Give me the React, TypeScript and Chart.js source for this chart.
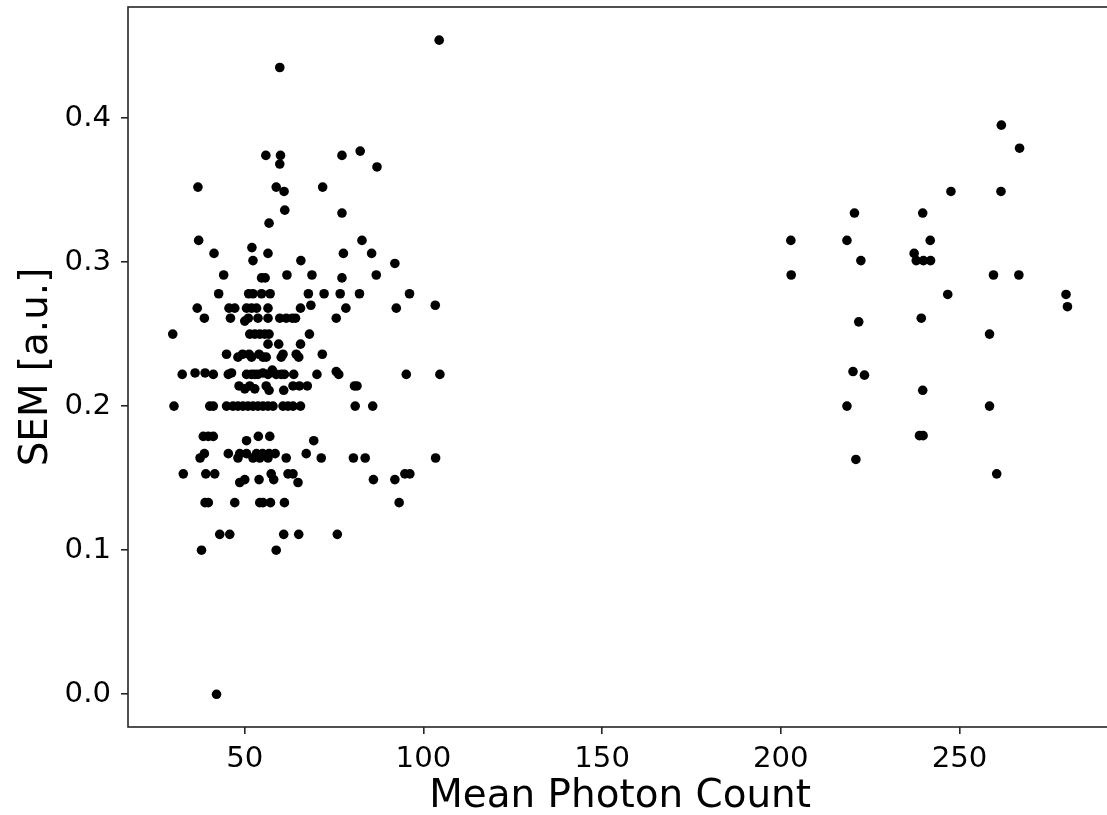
import React, { useEffect, useRef } from "react";
import { Chart, registerables } from "chart.js";

Chart.register(...registerables);

const xTickValues = [50, 100, 150, 200, 250];
const yTickValues = [0, 0.1, 0.2, 0.3, 0.4];
const xAxisLabel = "Mean Photon Count";
const yAxisLabel = "SEM [a.u.]";

// Low-count cluster
const lowPhotonCounts = [
  104.4, 59.8, 55.9, 60.0, 59.8, 77.2, 82.3, 87.0, 36.9, 58.8, 61.0, 71.8, 61.2, 56.8, 77.2,
  37.1, 82.8, 52.0, 41.4, 56.5, 77.6, 85.5, 52.3, 65.7, 92.0,
  44.1, 54.7, 55.7, 61.8, 68.8, 77.2, 86.8,
  42.7, 51.1, 52.3, 54.7, 57.1, 67.8, 72.2, 76.7, 82.1, 96.1,
  36.7, 45.6, 47.2, 50.5, 51.9, 53.3, 56.5, 65.6, 68.5, 78.3, 92.4, 103.3,
  38.7, 46.0, 50.0, 51.0, 53.7, 56.5, 59.8, 61.6, 63.3, 64.2, 75.6,
  29.85, 51.4, 52.8, 54.2, 55.6, 56.8, 68.1,
  56.5, 59.5, 65.6,
  44.9, 48.1, 49.4, 51.2, 51.9, 54.0, 55.1, 56.0, 60.7, 60.2, 64.4, 65.1, 71.7,
  32.5, 36.1, 38.9, 41.2, 45.4, 46.3, 50.5, 51.9, 52.8, 53.7, 55.1, 56.5, 57.7, 58.8, 60.2, 61.1, 63.7, 70.2, 75.6, 76.3, 95.2, 104.6,
  48.4, 50.0, 51.4, 52.8, 56.0, 56.8, 60.9, 63.5, 65.3, 67.5, 80.7, 81.4,
  30.2, 40.2, 41.2, 44.9, 46.7, 48.1, 49.5, 50.9, 52.3, 53.7, 55.1, 56.5, 57.9, 60.7, 62.1, 63.5, 65.6, 80.9, 85.8,
  38.4, 39.8, 41.2, 50.5, 53.8, 57.0, 69.3,
  38.7, 45.4, 48.6, 50.5, 53.3, 55.0, 56.8, 58.5, 67.2,
  37.5, 48.1, 52.3, 54.2, 56.5, 61.6, 71.4, 80.4, 83.7, 103.4,
  32.8, 39.1, 41.6, 57.4, 62.1, 63.5, 94.8, 96.2,
  48.6, 50.0, 54.0, 58.1, 64.9, 86.0, 92.0,
  38.9, 39.8, 47.2, 54.2, 55.1, 57.2, 61.1, 93.2,
  43.0, 45.8, 60.9, 65.1, 75.9,
  37.9, 58.8,
  42.1,
];

const lowSemValues = [
  0.454, 0.435, 0.374, 0.374, 0.368, 0.374, 0.377, 0.366, 0.352, 0.352, 0.349, 0.352, 0.336, 0.327, 0.334,
  0.315, 0.315, 0.310, 0.306, 0.306, 0.306, 0.306, 0.301, 0.301, 0.299,
  0.291, 0.289, 0.289, 0.291, 0.291, 0.289, 0.291,
  0.278, 0.278, 0.278, 0.278, 0.278, 0.278, 0.278, 0.278, 0.278, 0.278,
  0.268, 0.268, 0.268, 0.268, 0.268, 0.268, 0.268, 0.268, 0.270, 0.268, 0.268, 0.270,
  0.261, 0.261, 0.259, 0.261, 0.261, 0.261, 0.261, 0.261, 0.261, 0.261, 0.261,
  0.25, 0.25, 0.25, 0.25, 0.25, 0.25, 0.25,
  0.243, 0.243, 0.243,
  0.236, 0.234, 0.236, 0.236, 0.234, 0.236, 0.234, 0.234, 0.236, 0.234, 0.236, 0.234, 0.236,
  0.222, 0.223, 0.223, 0.222, 0.222, 0.223, 0.222, 0.222, 0.222, 0.222, 0.223, 0.222, 0.225, 0.222, 0.222, 0.222, 0.222, 0.222, 0.224, 0.222, 0.222, 0.222,
  0.214, 0.212, 0.214, 0.212, 0.214, 0.211, 0.211, 0.214, 0.214, 0.214, 0.214, 0.214,
  0.2, 0.2, 0.2, 0.2, 0.2, 0.2, 0.2, 0.2, 0.2, 0.2, 0.2, 0.2, 0.2, 0.2, 0.2, 0.2, 0.2, 0.2, 0.2,
  0.179, 0.179, 0.179, 0.176, 0.179, 0.179, 0.176,
  0.167, 0.167, 0.167, 0.167, 0.167, 0.167, 0.167, 0.167, 0.167,
  0.164, 0.164, 0.164, 0.164, 0.164, 0.164, 0.164, 0.164, 0.164, 0.164,
  0.153, 0.153, 0.153, 0.153, 0.153, 0.153, 0.153, 0.153,
  0.147, 0.149, 0.149, 0.149, 0.147, 0.149, 0.149,
  0.133, 0.133, 0.133, 0.133, 0.133, 0.133, 0.133, 0.133,
  0.111, 0.111, 0.111, 0.111, 0.111,
  0.1, 0.1,
  0.0,
];

// High-count cluster
const highPhotonCounts = [
  261.7, 266.8, 247.6, 261.6, 220.6, 239.7, 202.8, 218.5, 241.8, 237.3, 237.9, 239.9, 241.9, 222.4,
  202.9, 259.5, 266.6, 246.7, 279.8, 280.2, 221.8, 239.3, 258.4, 220.2, 223.4, 239.7, 218.5, 258.4,
  238.8, 239.8, 221.0, 260.4,
];

const highSemValues = [
  0.395, 0.379, 0.349, 0.349, 0.334, 0.334, 0.315, 0.315, 0.315, 0.306, 0.301, 0.301, 0.301, 0.301,
  0.291, 0.291, 0.291, 0.2775, 0.2775, 0.269, 0.2585, 0.261, 0.25, 0.224, 0.2215, 0.211, 0.2, 0.2,
  0.1795, 0.1795, 0.163, 0.153,
];

const FONT = "'DejaVu Sans', sans-serif";
const SPINE = "#262626";

export default function App() {
  const canvasRef = useRef<HTMLCanvasElement | null>(null);

  useEffect(() => {
    const canvas = canvasRef.current;
    if (!canvas) return;

    const points = [
      ...lowPhotonCounts.map((x, i) => ({ x, y: lowSemValues[i] })),
      ...highPhotonCounts.map((x, i) => ({ x, y: highSemValues[i] })),
    ];

    const frame = {
      id: "frame",
      afterDatasetsDraw(chart: any) {
        const { ctx, chartArea: a } = chart;
        ctx.save();
        ctx.strokeStyle = SPINE;
        ctx.lineWidth = 1.6;
        ctx.strokeRect(a.left, a.top, a.right - a.left, a.bottom - a.top);
        ctx.restore();
      },
    };

    const tickFont = { family: FONT, size: 29.2 };
    const titleFont = { family: FONT, size: 38.9, lineHeight: 0.95 };

    const chart = new Chart(canvas, {
      type: "scatter",
      data: {
        datasets: [
          {
            data: points,
            backgroundColor: "#000000",
            borderWidth: 0,
            pointRadius: 4.8,
            pointHoverRadius: 4.8,
          },
        ],
      },
      options: {
        animation: false,
        responsive: false,
        devicePixelRatio: 1,
        layout: { padding: { top: 7, right: 2, left: 0, bottom: 0 } },
        plugins: { legend: { display: false }, tooltip: { enabled: false } },
        scales: {
          x: {
            type: "linear",
            min: 17.33,
            max: 292.72,
            afterBuildTicks: (s: any) => {
              s.ticks = xTickValues.map((v) => ({ value: v }));
            },
            afterFit: (s: any) => {
              s.height = 88;
              s.paddingLeft = 0;
              s.paddingRight = 0;
            },
            grid: {
              display: true,
              drawOnChartArea: false,
              drawTicks: true,
              tickLength: 7,
              color: SPINE,
              lineWidth: 1.6,
            },
            border: { display: false },
            ticks: {
              font: tickFont,
              color: "#000000",
              padding: 8,
              maxRotation: 0,
              autoSkip: false,
              callback: (v: any) => String(v),
            },
            title: {
              display: true,
              text: xAxisLabel,
              font: titleFont,
              color: "#000000",
              padding: { top: 0, bottom: 0 },
            },
          },
          y: {
            type: "linear",
            min: -0.0227,
            max: 0.477,
            afterBuildTicks: (s: any) => {
              s.ticks = yTickValues.map((v) => ({ value: v }));
            },
            afterFit: (s: any) => {
              s.width = 128;
              s.paddingTop = 0;
              s.paddingBottom = 0;
            },
            grid: {
              display: true,
              drawOnChartArea: false,
              drawTicks: true,
              tickLength: 7,
              color: SPINE,
              lineWidth: 1.6,
            },
            border: { display: false },
            ticks: {
              font: tickFont,
              color: "#000000",
              padding: 10,
              autoSkip: false,
              callback: (v: any) => Number(v).toFixed(1),
            },
            title: {
              display: true,
              text: yAxisLabel,
              font: titleFont,
              color: "#000000",
              padding: { top: 18, bottom: 0 },
            },
          },
        },
      },
      plugins: [frame],
    } as any);

    return () => chart.destroy();
  }, []);

  return (
    <div
      style={{
        position: "fixed",
        left: 0,
        top: 0,
        width: 1107,
        height: 815,
        overflow: "hidden",
        background: "#ffffff",
      }}
    >
      <canvas
        ref={canvasRef}
        width={1117}
        height={815}
        style={{ width: 1117, height: 815, display: "block" }}
      />
    </div>
  );
}
